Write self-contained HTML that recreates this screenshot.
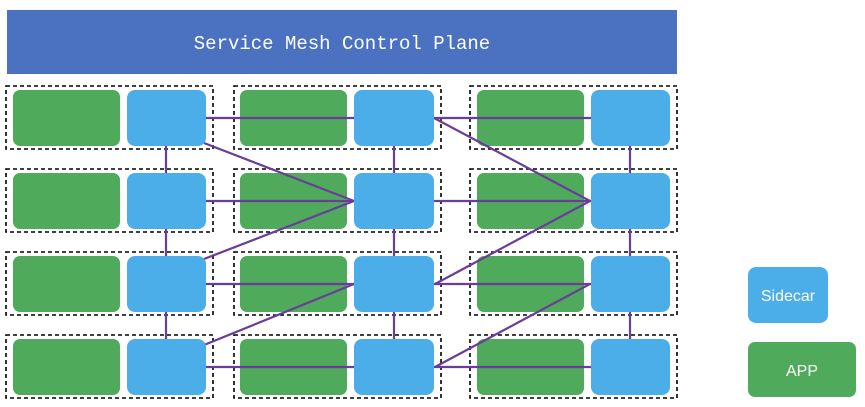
<!DOCTYPE html>
<html><head><style>
body{margin:0;background:#fff;width:865px;height:402px;overflow:hidden}
</style></head><body>
<svg width="865" height="402" xmlns="http://www.w3.org/2000/svg">
<rect x="7" y="10" width="670" height="64" fill="#4a72c0"/>
<text x="342" y="49" text-anchor="middle" fill="#fff" font-family="Liberation Mono, DejaVu Sans Mono, monospace" font-size="19">Service Mesh Control Plane</text>
<g fill="none" stroke="#000" stroke-width="1.6" stroke-dasharray="4,3">
<rect x="6" y="86" width="207" height="63"/><rect x="234" y="86" width="207" height="63"/><rect x="470" y="86" width="207" height="63"/>
<rect x="6" y="169" width="207" height="63"/><rect x="234" y="169" width="207" height="63"/><rect x="470" y="169" width="207" height="63"/>
<rect x="6" y="252" width="207" height="63"/><rect x="234" y="252" width="207" height="63"/><rect x="470" y="252" width="207" height="63"/>
<rect x="6" y="335" width="207" height="63"/><rect x="234" y="335" width="207" height="63"/><rect x="470" y="335" width="207" height="63"/>
</g>
<g fill="#4faa5c">
<rect x="13" y="90" width="107" height="56" rx="7"/><rect x="240" y="90" width="107" height="56" rx="7"/><rect x="477" y="90" width="107" height="56" rx="7"/>
<rect x="13" y="173" width="107" height="56" rx="7"/><rect x="240" y="173" width="107" height="56" rx="7"/><rect x="477" y="173" width="107" height="56" rx="7"/>
<rect x="13" y="256" width="107" height="56" rx="7"/><rect x="240" y="256" width="107" height="56" rx="7"/><rect x="477" y="256" width="107" height="56" rx="7"/>
<rect x="13" y="339" width="107" height="56" rx="7"/><rect x="240" y="339" width="107" height="56" rx="7"/><rect x="477" y="339" width="107" height="56" rx="7"/>
</g>
<g stroke="#6a3d9a" stroke-width="2.2">
<line x1="166" y1="146" x2="166" y2="339"/><line x1="394" y1="146" x2="394" y2="339"/><line x1="630" y1="146" x2="630" y2="339"/>
<line x1="434" y1="118" x2="590" y2="201"/><line x1="204" y1="143" x2="354" y2="201"/>
<line x1="204" y1="259" x2="354" y2="201"/><line x1="435" y1="284" x2="590" y2="201"/>
<line x1="204" y1="345" x2="354" y2="284"/><line x1="435" y1="367" x2="590" y2="284"/>
</g>
<g fill="#4baee8">
<rect x="127" y="90" width="79" height="56" rx="8"/><rect x="354" y="90" width="80" height="56" rx="8"/><rect x="591" y="90" width="79" height="56" rx="8"/>
<rect x="127" y="173" width="79" height="56" rx="8"/><rect x="354" y="173" width="80" height="56" rx="8"/><rect x="591" y="173" width="79" height="56" rx="8"/>
<rect x="127" y="256" width="79" height="56" rx="8"/><rect x="354" y="256" width="80" height="56" rx="8"/><rect x="591" y="256" width="79" height="56" rx="8"/>
<rect x="127" y="339" width="79" height="56" rx="8"/><rect x="354" y="339" width="80" height="56" rx="8"/><rect x="591" y="339" width="79" height="56" rx="8"/>
</g>
<g stroke="#6a3d9a" stroke-width="2.2">
<line x1="206" y1="118" x2="354" y2="118"/><line x1="434" y1="118" x2="591" y2="118"/>
<line x1="206" y1="201" x2="354" y2="201"/><line x1="434" y1="201" x2="591" y2="201"/>
<line x1="206" y1="284" x2="354" y2="284"/><line x1="434" y1="284" x2="591" y2="284"/>
<line x1="206" y1="367" x2="354" y2="367"/><line x1="434" y1="367" x2="591" y2="367"/>
</g>
<rect x="748" y="267" width="80" height="56" rx="8" fill="#4baee8"/>
<text x="788" y="301" text-anchor="middle" fill="#fff" font-family="Liberation Sans, sans-serif" font-size="16">Sidecar</text>
<rect x="748" y="342" width="108" height="55" rx="7" fill="#4faa5c"/>
<text x="802" y="376" text-anchor="middle" fill="#fff" font-family="Liberation Sans, sans-serif" font-size="16">APP</text>
</svg>
</body></html>
